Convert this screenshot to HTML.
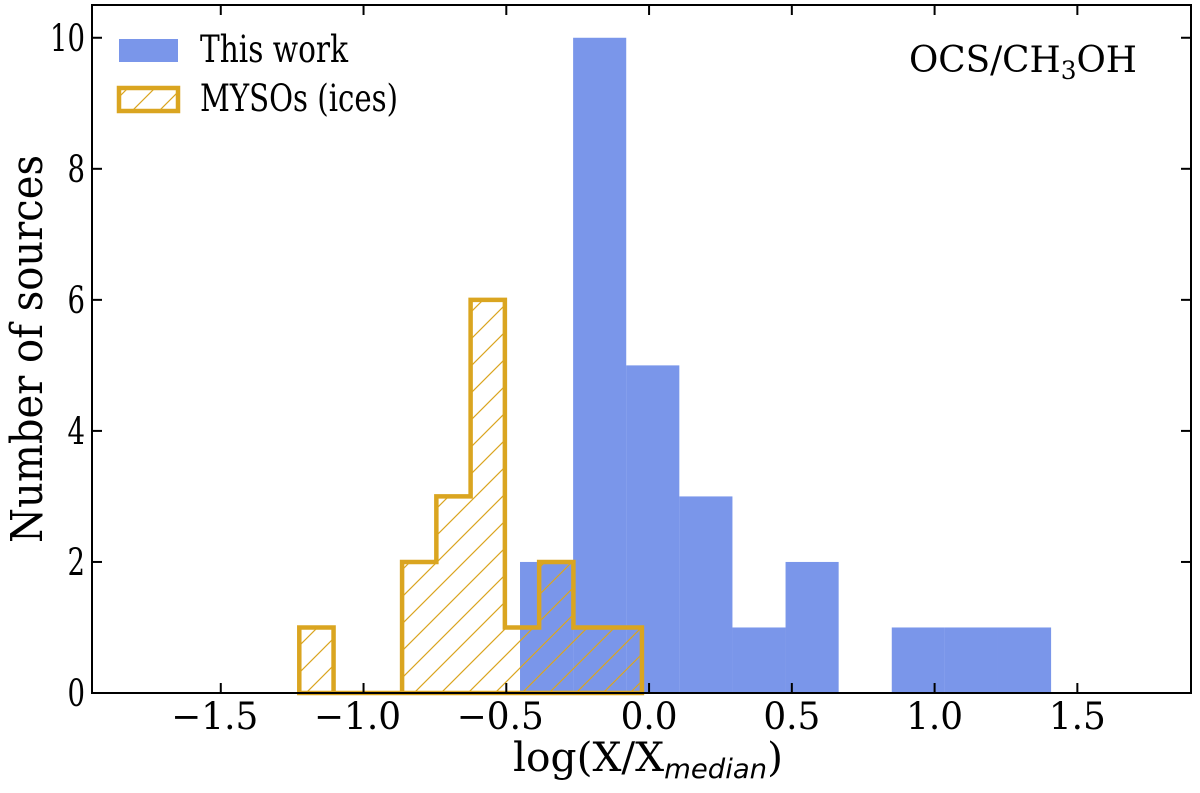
<!DOCTYPE html>
<html><head><meta charset="utf-8"><style>
html,body{margin:0;padding:0;background:#fff;}
svg{position:absolute;left:0;top:0}
svg text{font-family:"DejaVu Serif","Liberation Serif",serif;fill:#000;}
</style></head><body>
<svg id="chart" width="1200" height="793" viewBox="0 0 1200 793" xmlns="http://www.w3.org/2000/svg">
<defs>
<pattern id="hatch" patternUnits="userSpaceOnUse" width="27" height="27">
<path d="M-1,28 L28,-1 M-14,14 L14,-14 M13,41 L41,13" stroke="#daa520" stroke-width="1.2"/>
</pattern>
</defs>
<g id="plot"></g>
<text transform="translate(42,349) rotate(-90)" text-anchor="middle" font-size="44" textLength="388" lengthAdjust="spacingAndGlyphs">Number of sources</text>
<text x="513" y="771" font-size="40" textLength="270" lengthAdjust="spacingAndGlyphs">log(X/X<tspan font-style="italic" font-family="DejaVu Sans,sans-serif" font-size="27" dy="7">median</tspan><tspan dy="-7">)</tspan></text>
<text x="909" y="72" font-size="36" textLength="228" lengthAdjust="spacingAndGlyphs">OCS/CH<tspan font-size="25" dy="7">3</tspan><tspan dy="-7">OH</tspan></text>
<rect x="119" y="39" width="59" height="23" fill="#4169e1" fill-opacity="0.7"/>
<text x="200" y="62" font-size="37" textLength="148" lengthAdjust="spacingAndGlyphs">This work</text>
<rect x="119" y="88" width="59" height="23" fill="url(#hatch)" stroke="#daa520" stroke-width="4.5"/>
<text x="200" y="111" font-size="37" textLength="198" lengthAdjust="spacingAndGlyphs">MYSOs (ices)</text>
</svg>
<script>
const blueEdgesStart = -0.452;
const blueBinWidth = 0.186;
const blueCounts = [2,10,5,3,1,2,0,1,1,1];
const yellowEdgesStart = -1.225;
const yellowBinWidth = 0.12;
const yellowCounts = [1,0,0,2,3,6,1,2,1,1];
const xTicks = [-1.5,-1.0,-0.5,0.0,0.5,1.0,1.5];
const xTickLabels = ["\u22121.5","\u22121.0","\u22120.5","0.0","0.5","1.0","1.5"];
const yTicks = [0,2,4,6,8,10];
const yTickLabels = ["0","2","4","6","8","10"];

const L=92,R=1191,T=5,B=693;
const xMin=-1.951,xMax=1.898,yMin=0,yMax=10.5;
const xs=v=>L+(v-xMin)/(xMax-xMin)*(R-L);
const ys=v=>B-(v-yMin)/(yMax-yMin)*(B-T);
const NS="http://www.w3.org/2000/svg";
const g=document.getElementById('plot');
function mk(tag,attrs,parent){const e=document.createElementNS(NS,tag);for(const k in attrs)e.setAttribute(k,attrs[k]);(parent||g).appendChild(e);return e;}

blueCounts.forEach((c,i)=>{
  if(c<=0)return;
  const x0=xs(blueEdgesStart+i*blueBinWidth),x1=xs(blueEdgesStart+(i+1)*blueBinWidth);
  const r=mk('rect',{x:x0,y:ys(c),width:x1-x0,height:ys(0)-ys(c),fill:'#4169e1','fill-opacity':0.7});
  
  
});
let d='M'+xs(yellowEdgesStart)+','+ys(0);
yellowCounts.forEach((c,i)=>{
  const x0=xs(yellowEdgesStart+i*yellowBinWidth),x1=xs(yellowEdgesStart+(i+1)*yellowBinWidth);
  d+=' L'+x0+','+ys(c)+' L'+x1+','+ys(c);
});
d+=' L'+xs(yellowEdgesStart+yellowCounts.length*yellowBinWidth)+','+ys(0)+' Z';
const fillP=mk('path',{d:d,fill:'url(#hatch)',stroke:'none'});


const outP=mk('path',{d:d,fill:'none',stroke:'#daa520','stroke-width':4.5,'stroke-linejoin':'miter'});



const fr=mk('rect',{x:L,y:T,width:R-L,height:B-T,fill:'none',stroke:'#000','stroke-width':2});


xTicks.forEach((v,i)=>{
  const x=xs(v);
  const t1=mk('line',{x1:x,x2:x,y1:B,y2:B-10,stroke:'#000','stroke-width':2});
  
  
  const t2=mk('line',{x1:x,x2:x,y1:T,y2:T+10,stroke:'#000','stroke-width':2});
  
  
  const neg=xTickLabels[i].charAt(0)==='\u2212';
  const w=neg?87:57;
  const tx=mk('text',{x:x-(neg?w/2+6:w/2),y:B+36,'font-size':37,textLength:w,lengthAdjust:'spacingAndGlyphs'});
  tx.textContent=xTickLabels[i];
  
  
});
yTicks.forEach((v,i)=>{
  const y=ys(v);
  const t1=mk('line',{x1:L,x2:L+10,y1:y,y2:y,stroke:'#000','stroke-width':2});
  
  
  const t2=mk('line',{x1:R,x2:R-10,y1:y,y2:y,stroke:'#000','stroke-width':2});
  
  
  const w=yTickLabels[i].length*17.5;
  const tx=mk('text',{x:85-w,y:y+13,'font-size':37,textLength:w,lengthAdjust:'spacingAndGlyphs'});
  tx.textContent=yTickLabels[i];
  
  
});
</script>
</body></html>
